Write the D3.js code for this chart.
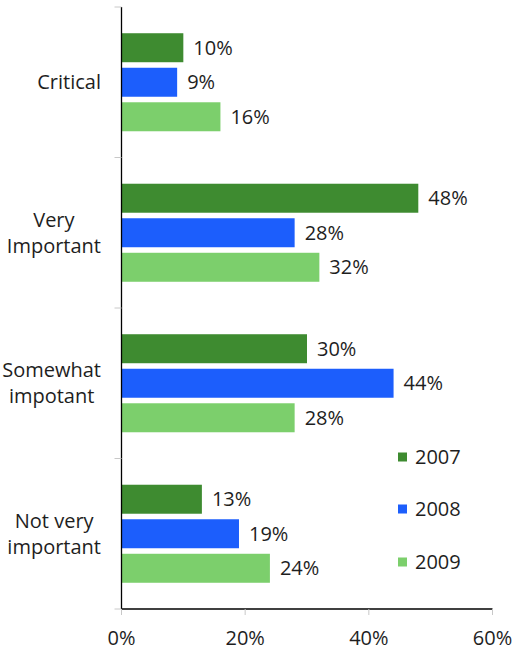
<!DOCTYPE html>
<html>
<head>
<meta charset="utf-8">
<script src="https://cdn.jsdelivr.net/npm/d3@7"></script>
<style>
  body { margin: 0; background: #fff; }
  text { font-family: "Open Sans", "Noto Sans", sans-serif; fill: #1e1e1e; }
</style>
</head>
<body>
<div id="chart"></div>
<script>
var categories = ["Critical", "Very Important", "Somewhat impotant", "Not very important"];
var categoryLines = [["Critical"], ["Very", "Important"], ["Somewhat", "impotant"], ["Not very", "important"]];
var seriesNames = ["2007", "2008", "2009"];
var values2007 = [10, 48, 30, 13];
var values2008 = [9, 28, 44, 19];
var values2009 = [16, 32, 28, 24];
var xTicks = [0, 20, 40, 60];

var seriesValues = [values2007, values2008, values2009];
var colors = ["#3e8b30", "#1c5efc", "#7ccf6c"];

var width = 515, height = 657;
var plotLeft = 121.5, plotRight = 492.5, plotTop = 7, plotBottom = 609;

var svg = d3.select("#chart").append("svg")
    .attr("width", width)
    .attr("height", height);

var x = d3.scaleLinear().domain([0, 60]).range([plotLeft, plotRight]);
var y0 = d3.scaleBand().domain(categories).range([plotTop, plotBottom]);
var y1 = d3.scaleBand().domain(seriesNames)
    .range([0, y0.bandwidth()])
    .paddingInner(0.16)
    .paddingOuter(0.76);

// bars
var groups = svg.selectAll(".group")
    .data(categories)
    .enter().append("g")
    .attr("transform", function(d) { return "translate(0," + y0(d) + ")"; });

groups.each(function(cat, ci) {
    var g = d3.select(this);
    var rows = seriesNames.map(function(s, si) {
        return {series: s, value: seriesValues[si][ci], color: colors[si]};
    });
    g.selectAll("rect")
        .data(rows)
        .enter().append("rect")
        .attr("x", x(0))
        .attr("y", function(d) { return y1(d.series); })
        .attr("width", function(d) { return x(d.value) - x(0); })
        .attr("height", y1.bandwidth())
        .attr("fill", function(d) { return d.color; });
    g.selectAll("text.val")
        .data(rows)
        .enter().append("text")
        .attr("class", "val")
        .attr("x", function(d) { return x(d.value) + 10; })
        .attr("y", function(d) { return y1(d.series) + y1.bandwidth() / 2; })
        .attr("dy", "0.35em")
        .style("font-size", "20px")
        .text(function(d) { return d.value + "%"; });
});

// category labels: block right-aligned, lines centered in block
categories.forEach(function(cat, ci) {
    var lines = categoryLines[ci];
    var lh = 26;
    var cy = y0(cat) + y0.bandwidth() / 2;
    var t = svg.append("text")
        .style("font-size", "20px")
        .attr("text-anchor", "middle");
    var spans = lines.map(function(l, li) {
        return t.append("tspan")
            .attr("y", cy + (li - (lines.length - 1) / 2) * lh)
            .attr("dy", "0.35em")
            .text(l);
    });
    var maxW = d3.max(spans, function(s) { return s.node().getComputedTextLength(); });
    spans.forEach(function(s) { s.attr("x", 101 - maxW / 2); });
});

// vertical axis
svg.append("line")
    .attr("x1", plotLeft).attr("x2", plotLeft)
    .attr("y1", plotTop).attr("y2", plotBottom)
    .attr("stroke", "#000").attr("stroke-width", 1.3);
var bounds = categories.map(function(c) { return y0(c); }).concat([plotBottom]);
svg.selectAll(".ytick")
    .data(bounds)
    .enter().append("line")
    .attr("x1", plotLeft - 7).attr("x2", plotLeft)
    .attr("y1", function(d) { return d; })
    .attr("y2", function(d) { return d; })
    .attr("stroke", "#c8c8c8");

// horizontal axis
svg.append("line")
    .attr("x1", plotLeft).attr("x2", plotRight)
    .attr("y1", plotBottom).attr("y2", plotBottom)
    .attr("stroke", "#000").attr("stroke-width", 1.3);
svg.selectAll(".xtick")
    .data(xTicks)
    .enter().append("line")
    .attr("x1", function(d) { return x(d); })
    .attr("x2", function(d) { return x(d); })
    .attr("y1", plotBottom).attr("y2", plotBottom + 6)
    .attr("stroke", "#c8c8c8");
svg.selectAll(".xlab")
    .data(xTicks)
    .enter().append("text")
    .attr("x", function(d) { return x(d); })
    .attr("y", 638)
    .attr("dy", "0.35em")
    .attr("text-anchor", "middle")
    .style("font-size", "20px")
    .text(function(d) { return d + "%"; });

// legend
var legendY = [457, 509, 562];
seriesNames.forEach(function(s, si) {
    svg.append("rect")
        .attr("x", 398).attr("y", legendY[si] - 4.5)
        .attr("width", 9).attr("height", 9)
        .attr("fill", colors[si]);
    svg.append("text")
        .attr("x", 415).attr("y", legendY[si])
        .attr("dy", "0.35em")
        .style("font-size", "20px")
        .text(s);
});
</script>
</body>
</html>
